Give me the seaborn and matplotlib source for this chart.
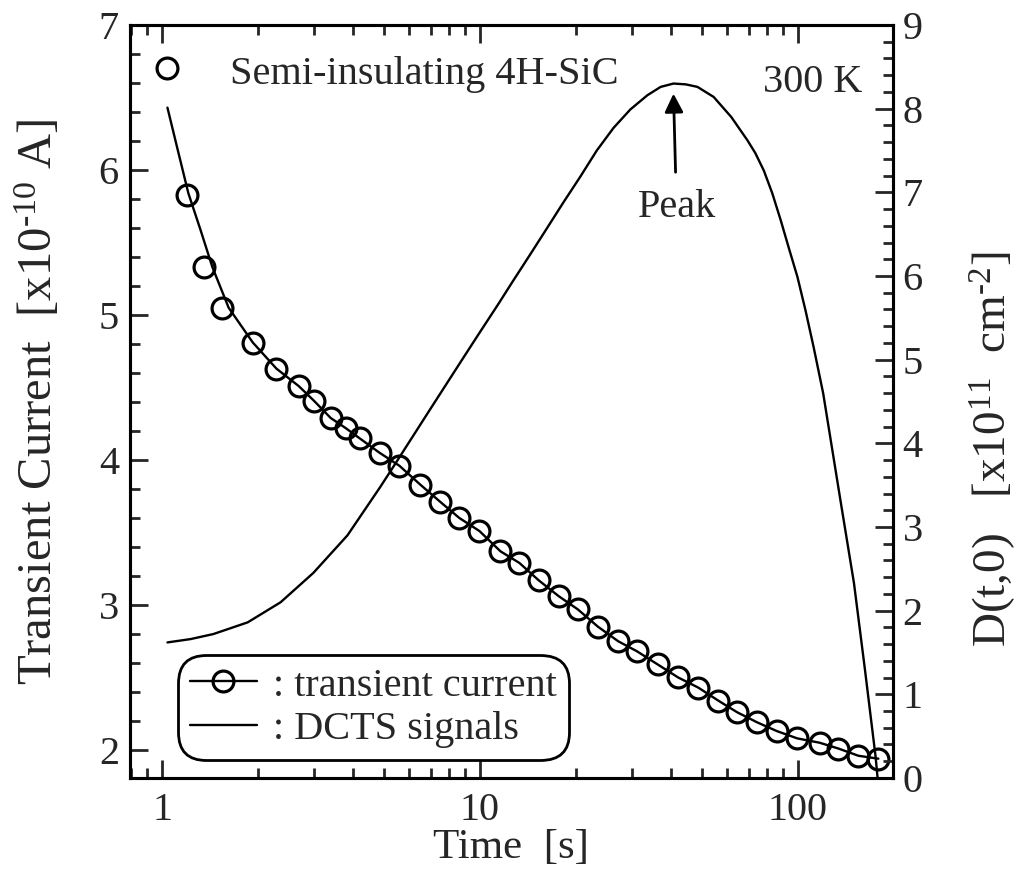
import numpy as np
import pandas as pd
import matplotlib
matplotlib.use('Agg')
import matplotlib.pyplot as plt
import seaborn as sns
from matplotlib.lines import Line2D
from matplotlib.ticker import MultipleLocator, FixedLocator, NullFormatter, LogLocator

# measured transient current (open circles)
t_meas = [1.04, 1.20, 1.36, 1.54, 1.93, 2.29, 2.69, 3.00, 3.39, 3.78, 4.18, 4.83,
          5.58, 6.49, 7.51, 8.61, 9.96, 11.6, 13.3, 15.3, 17.7, 20.3, 23.5, 27.2,
          31.2, 36.2, 42.0, 48.6, 56.2, 64.4, 74.5, 85.9, 99.5, 117, 134, 155, 179]
i_meas = [6.70, 5.83, 5.33, 5.05, 4.81, 4.63, 4.51, 4.41, 4.29, 4.22, 4.15, 4.05,
          3.96, 3.83, 3.71, 3.60, 3.51, 3.37, 3.29, 3.17, 3.06, 2.97, 2.85, 2.75,
          2.68, 2.59, 2.50, 2.43, 2.34, 2.26, 2.19, 2.13, 2.08, 2.05, 2.01, 1.96, 1.94]

# fitted current curve
t_fit = [1.04, 1.12, 1.21, 1.32, 1.44, 1.62, 1.93, 2.29, 2.69, 3.00, 3.39, 3.78, 4.18,
         4.83, 5.58, 6.49, 7.51, 8.61, 9.96, 11.6, 13.3, 15.3, 17.7, 20.3, 23.5, 27.2,
         31.2, 36.2, 42.0, 48.6, 56.2, 64.4, 74.5, 85.9, 99.5, 117, 134, 155, 179]
i_fit = [6.43, 6.14, 5.84, 5.59, 5.33, 5.05, 4.81, 4.63, 4.51, 4.41, 4.29, 4.22, 4.15,
         4.05, 3.96, 3.83, 3.71, 3.60, 3.51, 3.37, 3.29, 3.17, 3.06, 2.97, 2.85, 2.75,
         2.68, 2.59, 2.50, 2.43, 2.34, 2.26, 2.19, 2.13, 2.08, 2.05, 2.01, 1.96, 1.94]

# DCTS signal D(t,0)
t_dcts = [1.04, 1.23, 1.45, 1.86, 2.36, 2.99, 3.83, 4.86, 5.34, 6.98, 8.89, 10.0,
          11.4, 12.7, 14.4, 16.3, 18.3, 20.7, 23.3, 26.3, 29.7, 33.6, 37.0, 40.6,
          44.4, 48.3, 54.3, 61.7, 69.4, 73.4, 78.1, 83.0, 88.2, 93.5, 99.6, 105.6,
          112, 120, 136, 150, 162, 170, 175.5, 178]
d_dcts = [1.62, 1.66, 1.72, 1.86, 2.10, 2.45, 2.90, 3.48, 3.72, 4.41, 5.03, 5.33,
          5.66, 5.94, 6.26, 6.58, 6.88, 7.19, 7.50, 7.77, 7.99, 8.16, 8.26, 8.30,
          8.29, 8.26, 8.14, 7.90, 7.62, 7.47, 7.26, 6.99, 6.67, 6.34, 5.99, 5.59,
          5.15, 4.60, 3.32, 2.33, 1.33, 0.68, 0.25, 0.0]

meas = pd.DataFrame({'t': t_meas, 'I': i_meas})
fit = pd.DataFrame({'t': t_fit, 'I': i_fit})
dcts = pd.DataFrame({'t': t_dcts, 'D': d_dcts})

sns.set_theme(style='ticks')
plt.rcParams['font.family'] = ['Liberation Serif', 'DejaVu Serif']
plt.rcParams['mathtext.fontset'] = 'custom'
plt.rcParams['mathtext.rm'] = 'Liberation Serif'
plt.rcParams['mathtext.it'] = 'Liberation Serif:italic'

FS = 29
fig = plt.figure(figsize=(10.18, 8.89), dpi=100)
ax = fig.add_axes([0.1277, 0.1249, 0.7495, 0.8470])
ax.set_xscale('log')
ax2 = ax.twinx()

sns.lineplot(data=fit, x='t', y='I', ax=ax, color='black', lw=1.7,
             estimator=None, sort=False)
sns.lineplot(data=meas, x='t', y='I', ax=ax, color='black', linestyle='none',
             marker='o', markersize=15, markerfacecolor='none',
             markeredgecolor='black', markeredgewidth=2.3,
             estimator=None, sort=False)
sns.lineplot(data=dcts, x='t', y='D', ax=ax2, color='black', lw=1.7,
             estimator=None, sort=False)

ax.set_xlim(0.793, 199)
ax.set_ylim(1.807, 7)
ax2.set_ylim(0, 9)

ax.xaxis.set_major_locator(FixedLocator([1, 10, 100]))
ax.xaxis.set_major_formatter(matplotlib.ticker.FixedFormatter(['1', '10', '100']))
ax.xaxis.set_minor_locator(LogLocator(base=10, subs=np.arange(2, 10)))
ax.xaxis.set_minor_formatter(NullFormatter())
ax.yaxis.set_major_locator(MultipleLocator(1))
ax.yaxis.set_minor_locator(MultipleLocator(0.2))
ax2.yaxis.set_major_locator(MultipleLocator(1))
ax2.yaxis.set_minor_locator(MultipleLocator(0.2))

ax.tick_params(axis='x', which='both', direction='in', top=True, bottom=True,
               labelsize=FS, pad=10)
ax.tick_params(axis='y', which='both', direction='in', left=True, right=False,
               labelsize=FS, pad=8)
ax2.tick_params(axis='y', which='both', direction='in', right=True, left=False,
                labelsize=FS, pad=7)
for a in (ax, ax2):
    a.tick_params(which='major', length=13, width=2)
    a.tick_params(which='minor', length=7, width=2)
    for s in a.spines.values():
        s.set_linewidth(2.2)
        s.set_color('black')

ax.set_xlabel('Time  [s]', fontsize=31, labelpad=0)
ax.set_ylabel(r'Transient Current  [x10$^{\text{-}10}$ A]', fontsize=35)
ax.yaxis.set_label_coords(-0.089, 0.5)
ax2.set_ylabel(r'D(t,0)   [x10$^{11}$  cm$^{\text{-}2}$]', fontsize=34)
ax2.yaxis.set_label_coords(1.097, 0.436)

ax.text(0.131, 0.922, 'Semi-insulating 4H-SiC', transform=ax.transAxes,
        fontsize=FS, va='baseline', ha='left')
ax.text(0.83, 0.911, '300 K', transform=ax.transAxes,
        fontsize=FS, va='baseline', ha='left')
ax2.annotate('Peak', xy=(40.6, 8.18), xytext=(41.5, 6.70), fontsize=FS,
             ha='center', va='baseline',
             arrowprops=dict(arrowstyle='-|>', color='black', lw=2,
                             mutation_scale=28, shrinkA=10, shrinkB=0))

handles = [Line2D([], [], color='black', lw=1.7, marker='o', markersize=15,
                  markerfacecolor='none', markeredgewidth=2.3),
           Line2D([], [], color='black', lw=1.7)]
leg = ax.legend(handles, [': transient current', ': DCTS signals'],
                loc='lower left', bbox_to_anchor=(0.063, 0.024), borderaxespad=0,
                fontsize=FS, numpoints=1, handlelength=1.65, handletextpad=0.4,
                labelspacing=0.15, borderpad=0.3, frameon=True, fancybox=True)
frame = leg.get_frame()
frame.set_edgecolor('black')
frame.set_linewidth(2)
frame.set_facecolor('white')
frame.set_alpha(1)
frame.set_boxstyle('round,pad=0,rounding_size=0.7')
leg.set_zorder(5)

fig.savefig('out.png', dpi=100)
